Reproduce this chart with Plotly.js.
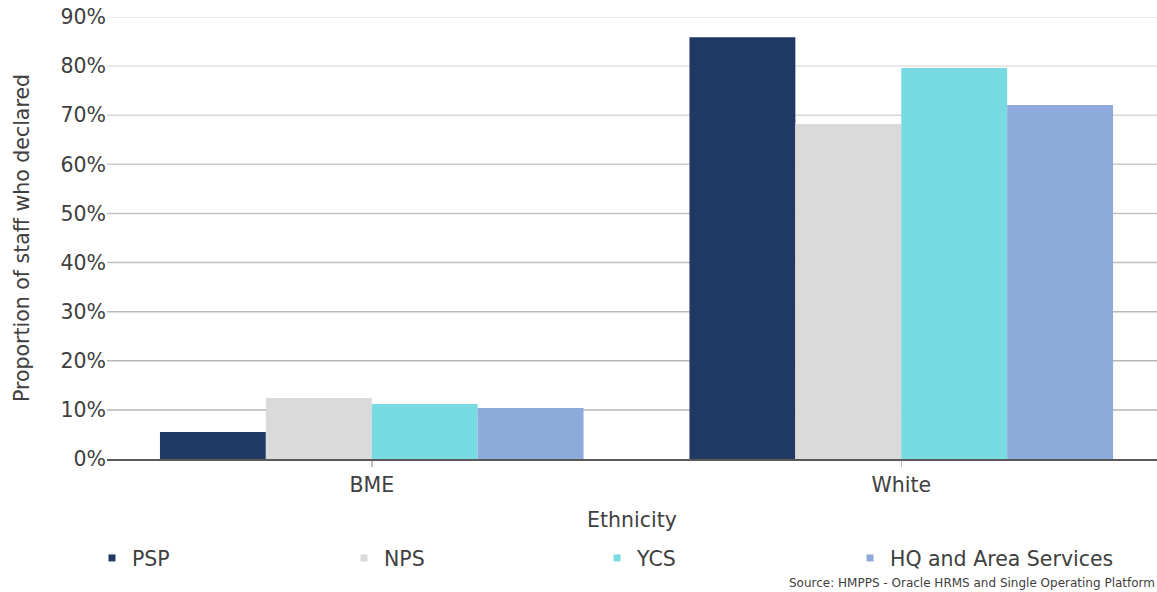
<!DOCTYPE html>
<html>
<head>
<meta charset="utf-8">
<script src="https://cdn.plot.ly/plotly-3.0.1.min.js"></script>
<style>
  html, body { margin: 0; padding: 0; background: #ffffff; }
  #chart { width: 1157px; height: 592px; }
</style>
</head>
<body>
<div id="chart"></div>
<script>
// Ethnicity of staff who declared, by business area
const categories = ['BME', 'White'];
const seriesNames = ['PSP', 'NPS', 'YCS', 'HQ and Area Services'];
const psp = [0.055, 0.859];
const nps = [0.124, 0.682];
const ycs = [0.112, 0.796];
const hq  = [0.104, 0.721];
const yTicks = [0, 0.1, 0.2, 0.3, 0.4, 0.5, 0.6, 0.7, 0.8, 0.9];
const sourceNote = 'Source: HMPPS - Oracle HRMS and Single Operating Platform';

const colors = ['#203864', '#dadada', '#79dbe2', '#8eaadb'];
// gridlines fade from darker near the baseline to lighter at the top
const gridColors = ['#b3b3b3', '#b6b6b6', '#b9b9b9', '#bdbdbd', '#c3c3c3',
                    '#cdcdcd', '#d8d8d8', '#e3e3e3', '#e8e8e8'];
// left edge (paper fraction) of each legend key along the bottom row
const legendX = [-0.0143, 0.2257, 0.4667, 0.7076];

const font = 'DejaVu Sans, sans-serif';
const textColor = '#404040';
const fs = 20.5;

const values = [psp, nps, ycs, hq];
const traces = [];
values.forEach((v, i) => {
  traces.push({
    type: 'bar',
    name: seriesNames[i],
    x: categories,
    y: v,
    marker: { color: colors[i], line: { width: 0 } },
    showlegend: false,
    hoverinfo: 'x+y+name'
  });
});
// small square keys, one legend box per series
const legendIds = ['legend', 'legend2', 'legend3', 'legend4'];
seriesNames.forEach((n, i) => {
  traces.push({
    type: 'scatter',
    mode: 'markers',
    name: n,
    x: [null],
    y: [null],
    marker: { symbol: 'square', size: 7, color: colors[i] },
    showlegend: true,
    legend: legendIds[i]
  });
});

const shapes = yTicks.slice(1).map((t, i) => ({
  type: 'line', xref: 'paper', yref: 'y',
  x0: 0, x1: 1, y0: t, y1: t,
  line: { color: gridColors[i], width: 1.5 },
  layer: 'below'
}));

const layout = {
  width: 1157,
  height: 592,
  margin: { l: 107, r: 0, t: 17, b: 133, pad: 0 },
  paper_bgcolor: '#ffffff',
  plot_bgcolor: '#ffffff',
  font: { family: font, color: textColor, size: fs },
  barmode: 'group',
  bargap: 0.2,
  bargroupgap: 0,
  showlegend: true,
  xaxis: {
    type: 'category',
    range: [-0.5, 1.483],
    showgrid: false,
    showline: true,
    linecolor: '#595959',
    linewidth: 2,
    ticks: 'outside',
    ticklen: 6,
    tickwidth: 1.5,
    tickcolor: '#bfbfbf',
    tickfont: { family: font, size: fs, color: textColor },
    title: { text: 'Ethnicity', font: { family: font, size: fs, color: textColor }, standoff: 17 },
    automargin: false,
    fixedrange: true
  },
  yaxis: {
    range: [0, 0.9],
    tickvals: yTicks,
    tickformat: '.0%',
    showgrid: false,
    zeroline: false,
    showline: false,
    ticks: '',
    tickfont: { family: font, size: fs, color: textColor },
    title: { text: 'Proportion of staff who declared', font: { family: font, size: fs, color: textColor }, standoff: 25 },
    automargin: false,
    fixedrange: true
  },
  shapes: shapes,
  annotations: [{
    text: sourceNote,
    xref: 'paper', yref: 'paper',
    x: 1, y: -0.2805,
    xanchor: 'right', yanchor: 'middle',
    showarrow: false,
    font: { family: font, size: 12, color: textColor }
  }]
};

legendIds.forEach((id, i) => {
  layout[id] = {
    orientation: 'h',
    x: legendX[i],
    xanchor: 'left',
    y: -0.179,
    yanchor: 'top',
    font: { family: font, size: fs, color: textColor },
    bgcolor: 'rgba(0,0,0,0)',
    borderwidth: 0
  };
});

Plotly.newPlot('chart', traces, layout, { displayModeBar: false, staticPlot: true });
</script>
</body>
</html>
